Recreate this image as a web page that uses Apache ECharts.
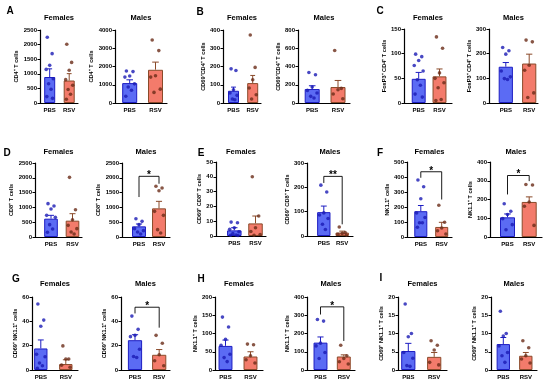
<!DOCTYPE html>
<html><head><meta charset="utf-8">
<script src="https://cdn.jsdelivr.net/npm/echarts@6/dist/echarts.min.js"></script>
<style>html,body{margin:0;padding:0;background:#fff}#c{width:550px;height:386px}</style>
</head><body><div id="c"></div>
<script>
// ---------- DATA ----------
const panelLetters = ['A','B','C','D','E','F','G','H','I'];
const sexes = ['Females','Males'];
const groups = ['PBS','RSV'];
const yTitles = [
  'CD4⁺ T cells','CD4⁺ T cells',
  'CD69⁺CD4⁺ T cells','CD69⁺CD4⁺ T cells',
  'FoxP3⁺ CD4⁺ T cells','FoxP3⁺ CD4⁺ T cells',
  'CD8⁺ T cells','CD8⁺ T cells',
  'CD69⁺ CD8⁺ T cells','CD69⁺ CD8⁺ T cells',
  'NK1.1⁺ cells','NK1.1⁺ T cells',
  'CD69⁺ NK1.1⁺ cells','CD69⁺ NK1.1⁺ cells',
  'NK1.1⁺ T cells','NK1.1⁺ T cells',
  'CD69⁺ NK1.1⁺ T cells','CD69⁺ NK1.1⁺ T cells'
];
const yMax  = [2500,4000,400,800,150,300,2500,2500,50,300,500,400,60,60,200,400,20,20];
const yStep = [500,1000,100,200,50,100,500,500,10,100,100,100,20,20,50,100,5,5];

const pbsMean = [890,1090,67,153,49,147,619,360,3.8,98,172,105,17.7,24.5,66,150,5.2,7.1];
const pbsSem  = [280,180,20,36,13,17,113,79,1.8,25,38,18,7,4.5,16,31,2.1,1.8];
const rsvMean = [770,1820,109,175,54,160,552,968,8.5,14,67,187,4.9,12.5,37,74,3.6,3.9];
const rsvSem  = [235,420,42,72,15,38,236,237,5,6,31,27,3.5,4.3,13,9,1.2,0.9];

const pbsPoints = [
  [2250,1690,1290,1150,830,660,470,220,160],
  [1750,1720,1480,1420,1050,880,700,370],
  [187,178,73,55,42,22,18],
  [335,309,175,138,109,73,55],
  [99,94,86,76,65,47,36,18,12],
  [225,212,198,130,106,99,95],
  [1126,1047,946,732,664,417,270,158],
  [619,529,417,282,214,169,101],
  [9.4,9.0,5.6,4.5,2.9,1.6,0.7,0.5,0.3],
  [209,181,95,86,72,48,27],
  [380,335,255,160,130,95,95,65],
  [177,137,120,98,66,39],
  [54.3,41,36,13,10.9,5.7,3.5,1.4],
  [44.3,33.4,28.5,27.4,17.1,11.1,10.3],
  [145,118,84,68,43,34,23],
  [277,268,147,132,96,63],
  [18.1,10,9.1,4.8,3.2,1.2,1.0],
  [16.1,10,9.3,6.6,4.8,3.9,2.1]
];
const rsvPoints = [
  [2010,1390,1120,800,610,460,300,130],
  [3450,2870,1490,1420,760,580],
  [373,195,127,82,45,22],
  [575,160,145,98,47],
  [134,111,61,50,41,31,7,5],
  [255,248,153,133,41,22],
  [2016,923,585,394,282,169,101],
  [1712,1655,1565,867,732,248,135],
  [40,13.5,5.6,3,1,0.5],
  [37,14,10,7,4],
  [212,98,60,42,20],
  [280,277,187,164,62],
  [19.8,9,9,4,2.2],
  [28.5,22,12.5,7.6,3.5],
  [71,69,39,28,19],
  [136,78,63,45,33],
  [8,6.8,5.5,2.1,1.4],
  [8,6.1,3.9,3,1.9]
];
// significance brackets: text, bracket level, left drop end, right drop end (data units)
const sigText  = ['','','','','','','','*','','**','*','*','','*','','*','',''];
const sigLevel = [0,0,0,0,0,0,0,2050,0,245,435,328,0,51.6,0,346,0,0];
const sigLeft  = [0,0,0,0,0,0,0,1350,0,218,395,227,0,46.5,0,304,0,0];
const sigRight = [0,0,0,0,0,0,0,1800,0,48,250,298,0,34.8,0,159,0,0];

// ---------- LAYOUT (pixels): yAxisX, xAxisEnd, PBS centre, RSV centre, top, bottom ----------
const layout = [
  [40,78,49.7,69.2,30,103],[115,167,129.7,155.5,30,103],
  [223,261,233.5,252.7,30,103],[298,350,312.2,338,30,103],
  [404,452,418.7,439.5,29,103],[489,538,505.8,529.2,29,103],
  [35,82,51,72.5,163,237],[122,170,139,159,163,237],
  [216,266,234.3,255.5,162,236],[307,353,323.8,342.2,163,236],
  [407,452,420.8,441.7,162,237],[490,542,507.5,529.2,162,237],
  [32,78,40.8,65.8,297,370],[121,170,135,159.2,297,370],
  [215,263,225.5,250.5,297,370],[307,355,320.5,343.8,297,370],
  [398,447,408.3,434.2,297,370],[491,537,503.3,525.8,297,370]
];
const titleY = [18,152,284];
const letterPos = [[10,11],[200,12],[380,11],[7,153],[201,153],[380,153],[16,279],[201,279],[381,278]];

const FONT = '"Liberation Sans", Arial, sans-serif';
const C = {
  pbsFill:'#5b6bf4', pbsEdge:'#1d1dc2', pbsDot:'#1a1ab4', pbsErrLow:'#c4cafd',
  rsvFill:'#f37b6b', rsvEdge:'#8a4a2a', rsvDot:'#6a2c18', rsvErrLow:'#ffd2c6'
};
const jit = [-0.22,0.22,0,-0.32,0.32,-0.1,0.12,-0.26,0.26];

const grid=[], xAxis=[], yAxis=[], series=[], graphic=[];
for (let i=0;i<18;i++){
  const [ax,ex,c0,c1,top,bot] = layout[i];
  const W = ex-ax, f0=(c0-ax)/W, f1=(c1-ax)/W;
  const bw = Math.min(15, 0.29*W);
  const row = Math.floor(i/6);
  grid.push({left:ax, top:top, width:W, height:bot-top});
  xAxis.push({gridIndex:i, type:'value', min:0, max:1, splitLine:{show:false},
    axisLine:{show:true,onZero:false,lineStyle:{color:'#000',width:1.2}},
    axisTick:{show:false},
    axisLabel:{customValues:[f0,f1], formatter:v=> v<0.5?groups[0]:groups[1],
      fontSize:6, fontWeight:'bold', color:'#000', fontFamily:FONT, margin:4}});
  const nChars = String(yMax[i]).length;
  yAxis.push({gridIndex:i, type:'value', min:0, max:yMax[i], interval:yStep[i],
    name:yTitles[i], nameLocation:'middle', nameGap: nChars*3.4+5,
    nameTextStyle:{fontSize:5.6, fontWeight:'bold', color:'#000', fontFamily:FONT},
    axisLine:{show:true,lineStyle:{color:'#000',width:1.2}},
    axisTick:{show:true,length:2.5,lineStyle:{color:'#000',width:1}},
    axisLabel:{formatter:v=>String(v), fontSize:6,fontWeight:'bold',color:'#000',fontFamily:FONT,margin:3},
    splitLine:{show:false}});
  series.push({type:'bar', xAxisIndex:i, yAxisIndex:i, barWidth:bw, silent:true,
    data:[
      {value:[f0,pbsMean[i]], itemStyle:{color:C.pbsFill,borderColor:C.pbsEdge,borderWidth:1}},
      {value:[f1,rsvMean[i]], itemStyle:{color:C.rsvFill,borderColor:C.rsvEdge,borderWidth:1}}
    ]});
  series.push({type:'custom', xAxisIndex:i, yAxisIndex:i, silent:true, encode:{x:0,y:1},
    data:[[f0,pbsMean[i],pbsSem[i],0],[f1,rsvMean[i],rsvSem[i],1]],
    renderItem:(p,api)=>{
      const x=api.value(0), m=api.value(1), s=api.value(2), g=api.value(3);
      const pt=api.coord([x,m+s]), pm=api.coord([x,m]), pb=api.coord([x,Math.max(0,m-s)]);
      const hw=bw*0.22, dark=g?C.rsvEdge:C.pbsEdge, light=g?C.rsvErrLow:C.pbsErrLow;
      return {type:'group', children:[
        {type:'line',shape:{x1:pt[0],y1:pt[1],x2:pm[0],y2:pm[1]},style:{stroke:dark,lineWidth:1}},
        {type:'line',shape:{x1:pt[0]-hw,y1:pt[1],x2:pt[0]+hw,y2:pt[1]},style:{stroke:dark,lineWidth:1}},
        {type:'line',shape:{x1:pm[0],y1:pm[1],x2:pb[0],y2:pb[1]},style:{stroke:light,lineWidth:0.8}},
        {type:'line',shape:{x1:pb[0]-hw,y1:pb[1],x2:pb[0]+hw,y2:pb[1]},style:{stroke:light,lineWidth:0.8}}
      ]};
    }});
  series.push({type:'scatter', xAxisIndex:i, yAxisIndex:i, silent:true, symbolSize:3.6,
    itemStyle:{color:C.pbsDot},
    data:pbsPoints[i].map((v,k)=>[f0+jit[k%jit.length]*bw/W, v])});
  series.push({type:'scatter', xAxisIndex:i, yAxisIndex:i, silent:true, symbolSize:3.6,
    itemStyle:{color:C.rsvDot},
    data:rsvPoints[i].map((v,k)=>[f1+jit[k%jit.length]*bw/W, v])});
  if (sigText[i]){
    const txt = sigText[i];
    series.push({type:'custom', xAxisIndex:i, yAxisIndex:i, silent:true, encode:{x:[0,1],y:[2,3,4]},
      data:[[f0,f1,sigLevel[i],sigLeft[i],sigRight[i]]],
      renderItem:(p,api)=>{
        const a=api.coord([api.value(0),api.value(2)]), b=api.coord([api.value(1),api.value(2)]);
        const la=api.coord([api.value(0),api.value(3)]), rb=api.coord([api.value(1),api.value(4)]);
        return {type:'group', children:[
          {type:'polyline',shape:{points:[la,a,b,rb]},style:{stroke:'#000',lineWidth:0.9,fill:null}},
          {type:'text',style:{text:txt,x:(a[0]+b[0])/2,y:a[1]+4,align:'center',verticalAlign:'bottom',
            textAlign:'center',textVerticalAlign:'bottom',font:'bold 10px '+FONT,fill:'#000'}}
        ]};
      }});
  }
  graphic.push({type:'text', x:ax+W/2, y:titleY[row], style:{text:sexes[i%2], align:'center', verticalAlign:'middle',
    textAlign:'center', textVerticalAlign:'middle', font:'bold 7.5px '+FONT, fill:'#000'}});
}
panelLetters.forEach((L,k)=>{
  graphic.push({type:'text', x:letterPos[k][0], y:letterPos[k][1], style:{text:L, align:'center', verticalAlign:'middle',
    textAlign:'center', textVerticalAlign:'middle', font:'bold 10px '+FONT, fill:'#000'}});
});

const chart = echarts.init(document.getElementById('c'), null, {renderer:'canvas'});
chart.setOption({animation:false, backgroundColor:'#fff', grid, xAxis, yAxis, series, graphic});
</script></body></html>
